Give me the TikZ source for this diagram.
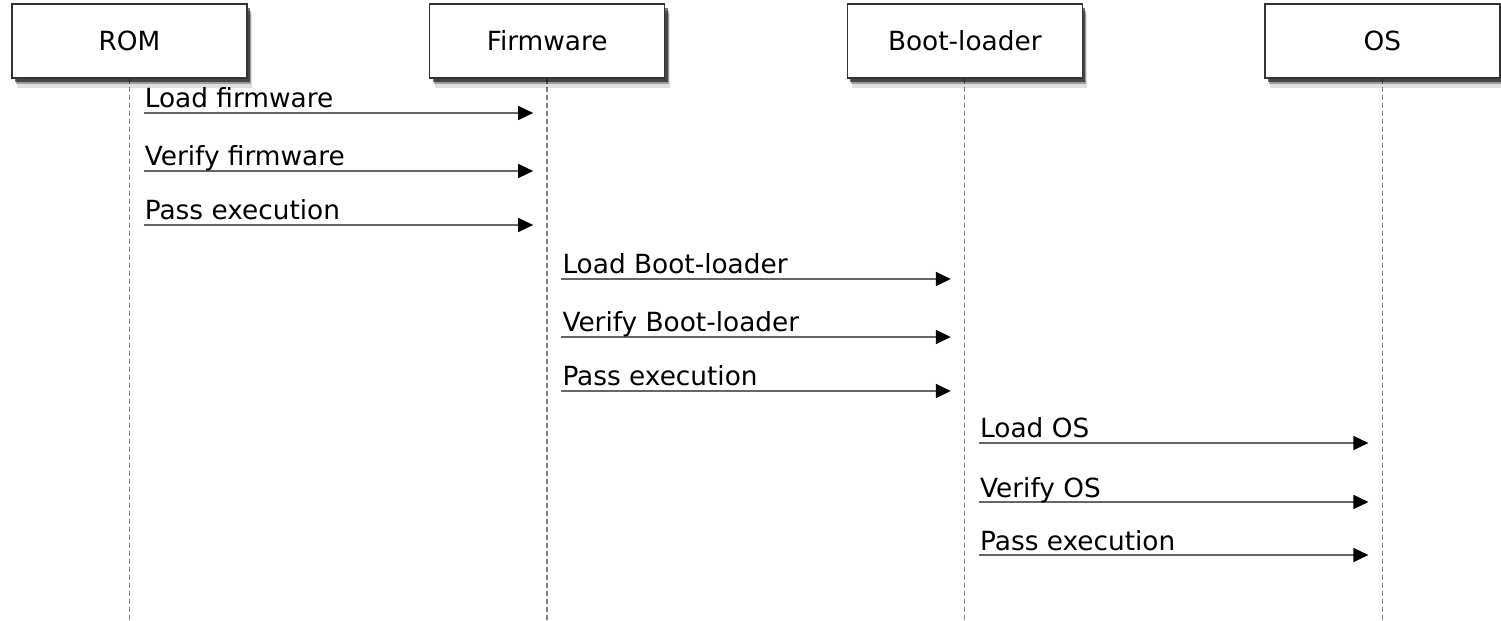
\documentclass[tikz,border=0pt]{standalone}
\usepackage{fontspec}
\setmainfont{DejaVu Sans}
\usetikzlibrary{arrows.meta,positioning,shadows,calc,backgrounds}
\tikzset{
    actor/.style = {
        rectangle,
        draw=black!80,
        fill=white,
        line width=0.7pt,
        minimum width=4.7cm,
        minimum height=1.48cm,
        font=\fontsize{15}{18}\selectfont,
        % soft shadow, three layers
        drop shadow={shadow xshift=0.1cm, shadow yshift=-0.2cm, opacity=0.12, fill=black},
        drop shadow={shadow xshift=0.08cm, shadow yshift=-0.13cm, opacity=0.3, fill=black},
        drop shadow={shadow xshift=0.06cm, shadow yshift=-0.08cm, opacity=0.55, fill=black}
    },
    lifeline/.style = {
        draw=black!50,
        line width=0.75pt,
        dash pattern=on 0.1cm off 0.06cm
    },
    msg/.style = {
        draw=black!60,
        line width=0.9pt,
        -{Triangle[length=0.3cm,width=0.28cm,color=black,fill=black]}
    },
    msglabel/.style = {
        anchor=base west,
        inner sep=0pt,
        font=\fontsize{15}{18}\selectfont
    }
}
\begin{document}
\begin{tikzpicture}[x=0.02cm, y=-0.02cm, node distance=3.63cm]
    \useasboundingbox (0,0) rectangle (1501,621);
    % the four parties
    \node [actor] (rom) at (129.5,41) {ROM};
    \node [actor, right=of rom] (fw) {Firmware};
    \node [actor, right=of fw] (bl) {Boot-loader};
    \node [actor, right=of bl] (os) {OS};
    % lifelines under the boxes
    \begin{scope}[on background layer]
        \foreach \n in {rom,fw,bl,os} {
            \coordinate (\n-end) at (\n.south |- 0,621);
            \draw [lifeline] (\n.south) -- (\n-end);
        }
    \end{scope}
    % messages
    \foreach \y/\src/\dst/\txt in {
            113/rom/fw/Load firmware,
            171/rom/fw/Verify firmware,
            225/rom/fw/Pass execution,
            279/fw/bl/Load Boot-loader,
            337/fw/bl/Verify Boot-loader,
            391/fw/bl/Pass execution,
            443/bl/os/Load OS,
            502/bl/os/Verify OS,
            555/bl/os/Pass execution} {
        \coordinate (from) at ($(\src.south |- 0,\y)+(14,0)$);
        \coordinate (to) at ($(\dst.south |- 0,\y)+(-14,0)$);
        \draw [msg] (from) -- (to);
        \node [msglabel] (lbl) at ($(from)+(1,-5)$) {\txt};
    }
\end{tikzpicture}
\end{document}
